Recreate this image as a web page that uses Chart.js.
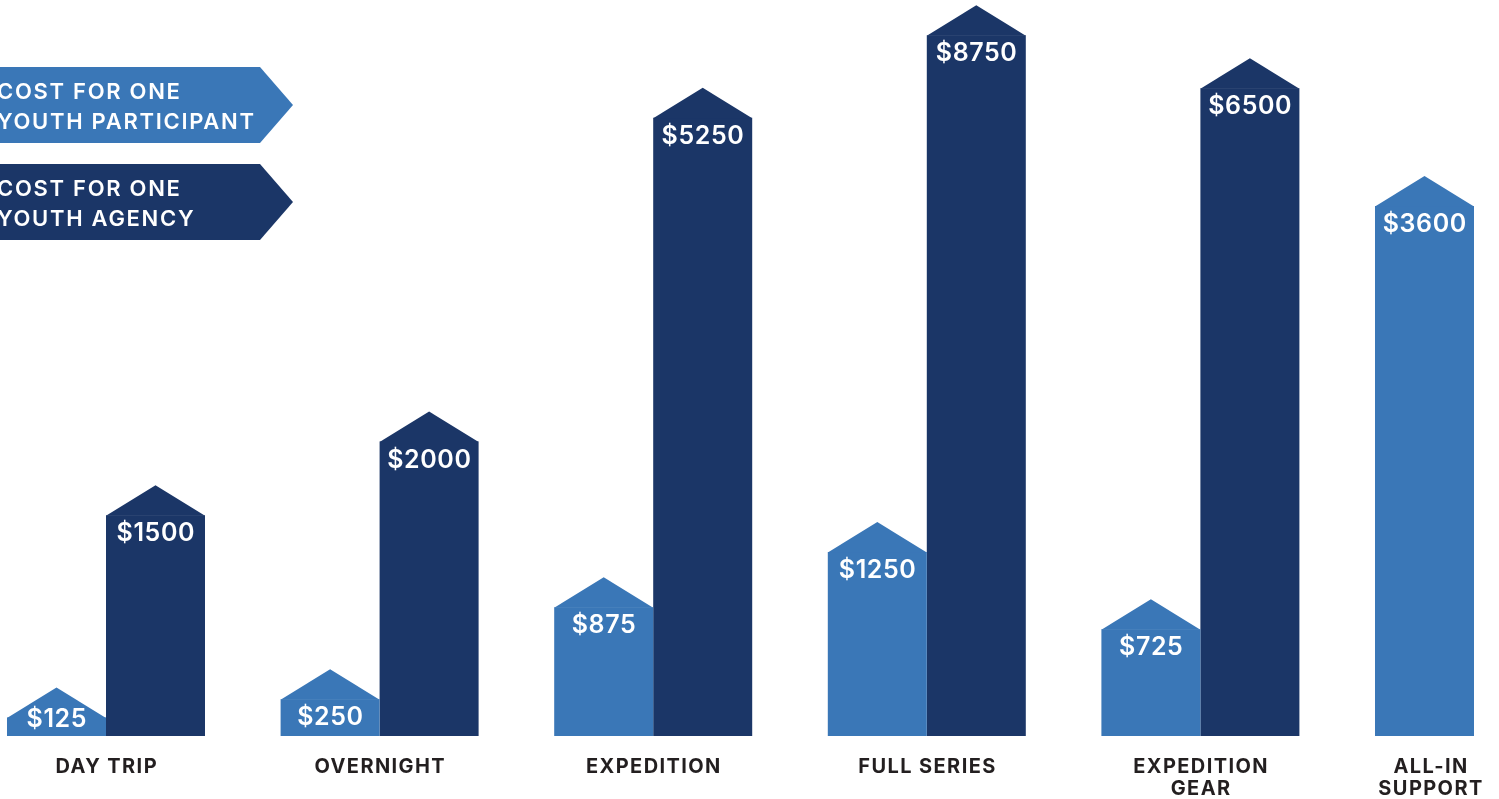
<!DOCTYPE html>
<html>
<head>
<meta charset="utf-8">
<title>Program costs</title>
<script src="https://cdn.jsdelivr.net/npm/chart.js@4.4.1/dist/chart.umd.min.js"></script>
<style>
  html, body { margin: 0; padding: 0; background: #fff; }
  #wrap { width: 1499px; height: 799px; position: relative; }
</style>
</head>
<body>
<div id="wrap"><canvas id="costChart"></canvas></div>
<script>
const categories = [['DAY TRIP'], ['OVERNIGHT'], ['EXPEDITION'], ['FULL SERIES'], ['EXPEDITION', 'GEAR'], ['ALL-IN', 'SUPPORT']];
const participantCost = [125, 250, 875, 1250, 725, 3600];
const agencyCost = [1500, 2000, 5250, 8750, 6500, null];
const seriesNames = [['COST FOR ONE', 'YOUTH PARTICIPANT'], ['COST FOR ONE', 'YOUTH AGENCY']];

const LIGHT = '#3a77b7';
const DARK = '#1b3667';
const FONT = 'Inter, "Open Sans", "DejaVu Sans", sans-serif';

// linear scale with the top part squeezed (the artwork is not to scale above ~$4000)
class CompressedScale extends Chart.LinearScale {
  static id = 'compressed';
  static defaults = {};
  squeeze(v) {
    const k = this.options.knee, r = this.options.ratio;
    return v <= k ? v : k + (v - k) * r;
  }
  configure() {
    super.configure();
    this._startValue = this.squeeze(this.min);
    this._endValue = this.squeeze(this.max);
    this._valueRange = this._endValue - this._startValue;
  }
  getPixelForValue(value) {
    if (value === null || isNaN(value)) return NaN;
    return this.getPixelForDecimal((this.squeeze(value) - this._startValue) / this._valueRange);
  }
}
Chart.register(CompressedScale);

// pointed roof on every bar + the $ label inside
const houseTops = {
  id: 'houseTops',
  afterDatasetsDraw(chart) {
    const ctx = chart.ctx;
    ctx.save();
    chart.data.datasets.forEach((ds, di) => {
      const meta = chart.getDatasetMeta(di);
      meta.data.forEach((bar, i) => {
        const v = ds.data[i];
        if (v === null || v === undefined) return;
        const { x, y, base, width } = bar.getProps(['x', 'y', 'base', 'width'], true);
        ctx.fillStyle = ds.backgroundColor;
        ctx.beginPath();
        ctx.moveTo(x - width / 2, y + 0.5);
        ctx.lineTo(x, y - 30);
        ctx.lineTo(x + width / 2, y + 0.5);
        ctx.closePath();
        ctx.fill();

        ctx.fillStyle = '#fff';
        ctx.font = '600 25px ' + FONT;
        ctx.letterSpacing = '0.6px';
        ctx.textAlign = 'center';
        ctx.textBaseline = 'alphabetic';
        ctx.fillText('$' + v, x + 0.3, Math.min(y + 26, base - 9));
      });
    });
    ctx.restore();
  }
};

// category names under the bars and the arrow-shaped legend
const labelsAndLegend = {
  id: 'labelsAndLegend',
  afterDraw(chart) {
    const ctx = chart.ctx;
    const xs = chart.scales.x;
    ctx.save();
    ctx.font = '700 20px ' + FONT;
    ctx.letterSpacing = '1.4px';
    ctx.fillStyle = '#231f20';
    ctx.textAlign = 'center';
    ctx.textBaseline = 'alphabetic';
    categories.forEach((lines, i) => {
      const w = Math.max(...lines.map(s => ctx.measureText(s).width));
      const cx = Math.min(xs.getPixelForTick(i), chart.width - w / 2 - 16);
      lines.forEach((s, j) => ctx.fillText(s, cx + 0.7, chart.chartArea.bottom + 37 + j * 22));
    });

    chart.data.datasets.forEach((ds, di) => {
      const top = 67 + di * 97, h = 76;
      ctx.fillStyle = ds.backgroundColor;
      ctx.beginPath();
      ctx.moveTo(-5, top);
      ctx.lineTo(260, top);
      ctx.lineTo(293, top + h / 2);
      ctx.lineTo(260, top + h);
      ctx.lineTo(-5, top + h);
      ctx.closePath();
      ctx.fill();
      ctx.fillStyle = '#fff';
      ctx.font = '600 22px ' + FONT;
      ctx.letterSpacing = '1.7px';
      ctx.textAlign = 'left';
      seriesNames[di].forEach((s, j) => ctx.fillText(s, -3, top + 32 + j * 30));
    });
    ctx.restore();
  }
};

function build() {
  new Chart(document.getElementById('costChart'), {
    type: 'bar',
    data: {
      labels: categories,
      datasets: [
        { label: seriesNames[0].join(' '), data: participantCost, backgroundColor: LIGHT, clip: false },
        { label: seriesNames[1].join(' '), data: agencyCost, backgroundColor: DARK, clip: false }
      ]
    },
    options: {
      responsive: true,
      maintainAspectRatio: false,
      animation: false,
      categoryPercentage: 0.7237,
      barPercentage: 1.0,
      layout: { padding: { left: 106, right: 25, top: 0, bottom: 63 } },
      plugins: { legend: { display: false }, tooltip: { enabled: false } },
      scales: {
        x: { type: 'category', offset: false, display: false, grid: { offset: false } },
        y: { type: 'compressed', display: false, min: 0, max: 10250, knee: 4000, ratio: 0.16 }
      }
    },
    plugins: [houseTops, labelsAndLegend]
  });
}

if (document.fonts && document.fonts.load) {
  Promise.all([document.fonts.load('600 22px Inter'), document.fonts.load('700 20px Inter')])
    .then(build, build);
} else {
  build();
}
</script>
</body>
</html>
